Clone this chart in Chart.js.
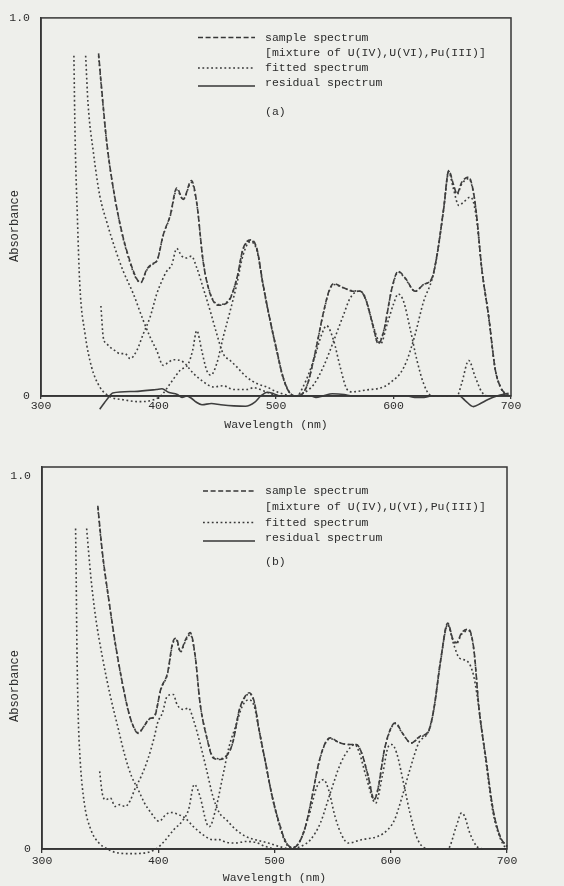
<!DOCTYPE html>
<html>
<head>
<meta charset="utf-8">
<script src="https://cdn.jsdelivr.net/npm/chart.js@4"></script>
<style>
  body { margin: 0; background: #eeefeb; }
  .panel { width: 564px; height: 443px; }
</style>
</head>
<body>
<div class="panel"><canvas id="chart-a" width="564" height="443"></canvas></div>
<div class="panel"><canvas id="chart-b" width="564" height="443"></canvas></div>
<script>
/************************ axis ticks and legend text *************************/
const xTicks = [300, 400, 500, 600, 700];
const yTicks = [0, 1.0];
const legendLabels = ["sample spectrum", "[mixture of U(IV),U(VI),Pu(III)]", "fitted spectrum", "residual spectrum"];

/************************ spectra, panel (a) [nm, absorbance] ****************/
const sampleA = [[349,0.906],[351.7,0.81],[356,0.67],[361.6,0.548],[368.7,0.435],[375.8,0.356],[381.5,0.31],[385,0.30],[390,0.335],[395,0.35],[399,0.36],[404,0.426],[410,0.478],[415.5,0.55],[421,0.52],[428,0.57],[432.6,0.51],[438,0.356],[444,0.27],[451,0.24],[459.5,0.25],[466.6,0.31],[472,0.39],[478.6,0.413],[483.7,0.39],[489,0.295],[495,0.2],[500.7,0.12],[506,0.05],[512,0.007],[518,0],[526,0.024],[533,0.11],[540,0.216],[545,0.277],[549,0.297],[557.5,0.286],[566,0.277],[571.7,0.277],[577,0.25],[583,0.18],[587,0.138],[591.6,0.17],[598.7,0.286],[604,0.33],[610,0.312],[618.5,0.277],[625.6,0.295],[632.7,0.312],[637,0.373],[642.7,0.496],[647,0.596],[651,0.56],[654,0.535],[658,0.565],[664,0.579],[668,0.54],[671,0.47],[675,0.34],[681,0.21],[686.6,0.07],[691,0.024],[695,0.007],[699,0]];
const fittedA = [[349,0.9],[351.7,0.805],[356,0.668],[361.6,0.546],[368.7,0.433],[375.8,0.352],[381.5,0.308],[385,0.3],[390,0.333],[395,0.348],[399,0.36],[404,0.424],[410,0.476],[415.5,0.545],[421,0.52],[428,0.565],[432.6,0.508],[438,0.356],[444,0.272],[451,0.242],[459.5,0.252],[466.6,0.31],[472,0.388],[478.6,0.41],[483.7,0.388],[489,0.295],[495,0.2],[500.7,0.12],[506,0.05],[512,0.008],[518,0],[526,0.025],[533,0.11],[540,0.214],[545,0.275],[549,0.295],[557.5,0.286],[566,0.278],[571.7,0.277],[577,0.25],[583,0.18],[587,0.14],[591.6,0.172],[598.7,0.284],[604,0.328],[610,0.31],[618.5,0.277],[625.6,0.295],[632.7,0.31],[637,0.372],[642.7,0.494],[647,0.592],[651,0.556],[654,0.533],[658,0.56],[664,0.575],[668,0.538],[671,0.47],[675,0.34],[681,0.21],[686.6,0.07],[691,0.024],[695,0.006],[699,0]];
const uIVA = [[328,0.9],[329,0.688],[331,0.47],[333,0.295],[337.5,0.164],[343,0.077],[350,0.024],[359,-0.002],[370,-0.01],[384,-0.015],[395.7,-0.01],[402.8,0.003],[410,0.033],[418.4,0.068],[425.5,0.086],[429,0.12],[432.6,0.173],[436.8,0.12],[441,0.068],[444.5,0.055],[449.6,0.086],[455,0.155],[461,0.225],[466.6,0.295],[472,0.373],[478,0.408],[483.7,0.385],[489,0.292],[495,0.198],[500.7,0.118],[506,0.048],[512,0.007],[517.7,0],[523,0.024],[532,0.094],[539,0.164],[543,0.186],[549,0.147],[554.6,0.077],[560,0.02],[564.6,0.011],[577,0.016],[591.6,0.024],[600,0.042],[605.8,0.06],[611.4,0.094],[618.5,0.164],[625.6,0.25],[632.7,0.308],[637,0.37],[642.7,0.494],[647,0.594],[651,0.548],[655.5,0.504],[659.7,0.513],[665.4,0.526],[668,0.513],[671,0.46],[675,0.34],[681,0.21],[686.6,0.07],[691,0.024],[695,0.003]];
const uVIA = [[338,0.9],[340,0.775],[344.6,0.644],[350,0.53],[356,0.46],[363,0.39],[370,0.33],[378.6,0.27],[387,0.2],[393,0.155],[398.5,0.12],[404,0.081],[408,0.088],[412.7,0.096],[421,0.09],[429.7,0.06],[438,0.038],[446.8,0.024],[455,0.027],[464,0.017],[475,0.017],[481,0.022],[489,0.014],[498,0.003],[503.6,0]];
const puIIIA = [[351,0.238],[353,0.155],[356,0.138],[358.8,0.129],[363,0.12],[367,0.112],[371.5,0.112],[375.8,0.099],[381.5,0.12],[387,0.164],[392.8,0.208],[398.5,0.27],[402.8,0.304],[407,0.33],[411.3,0.347],[415.5,0.39],[419.8,0.37],[424,0.365],[428,0.37],[432.6,0.339],[438,0.286],[444,0.225],[449.6,0.164],[455,0.112],[461,0.094],[466.6,0.077],[475,0.05],[483.7,0.033],[492,0.024],[500.7,0.011],[509,0.003],[515,0],[523,0.007],[532,0.03],[540,0.075],[549,0.145],[557.5,0.215],[563,0.258],[570,0.277],[574.5,0.27],[580,0.216],[586,0.155],[589,0.138],[594.6,0.19],[600,0.243],[604,0.27],[608.6,0.25],[614,0.18],[620,0.094],[625.6,0.033],[631,0.003],[637,0],[654,0],[658,0.033],[664,0.094],[669.6,0.05],[675,0.011],[679,0]];
const residualA = [[350,-0.035],[354,-0.018],[358.4,0],[361,0.008],[379.5,0.012],[398,0.017],[403,0.019],[408.4,0.01],[416,0.004],[420,-0.004],[424,0],[428,-0.006],[432,-0.016],[437,-0.023],[445,-0.02],[453,-0.023],[464,-0.026],[474,-0.027],[482,-0.016],[487,0],[492.6,0.01],[498,0.006],[503,0],[530,0],[534,-0.004],[540,0],[548,0.006],[558,0.004],[565,0],[612,0],[618,-0.004],[626,-0.004],[632,0],[656,0],[661,-0.012],[668,-0.028],[674,-0.02],[680,-0.01],[688,0],[698,0.007]];

/************************ spectra, panel (b) [nm, absorbance] ****************/
const sampleB = [[348,0.92],[352,0.794],[357.4,0.67],[363,0.553],[368.6,0.454],[374,0.374],[378.4,0.33],[382.6,0.31],[388,0.33],[392.4,0.35],[396.6,0.354],[402.3,0.43],[408,0.472],[412.5,0.555],[415.5,0.565],[419,0.53],[423.3,0.56],[427.5,0.58],[431.8,0.517],[436,0.39],[441.6,0.3],[447.3,0.244],[453,0.24],[458.6,0.249],[464,0.284],[469.8,0.374],[474.9,0.41],[478.3,0.419],[482.5,0.396],[486.7,0.32],[492.4,0.23],[498,0.141],[504,0.07],[509.6,0.02],[515.3,0.003],[521,0.016],[526.6,0.06],[532.3,0.14],[538,0.23],[543.6,0.284],[547.9,0.298],[555,0.286],[563.4,0.28],[570.6,0.28],[574.9,0.258],[580.6,0.195],[585.7,0.132],[589,0.16],[594.6,0.267],[601,0.33],[604,0.338],[610,0.311],[617.6,0.284],[625,0.302],[632.5,0.316],[637,0.374],[643,0.508],[649,0.606],[653.5,0.562],[656.5,0.553],[661,0.58],[667,0.589],[671.5,0.535],[676,0.374],[682,0.24],[688,0.106],[694,0.034],[700,0.007]];
const fittedB = [[348,0.915],[352,0.79],[357.4,0.668],[363,0.55],[368.6,0.452],[374,0.372],[378.4,0.33],[382.6,0.312],[388,0.33],[392.4,0.348],[396.6,0.355],[402.3,0.428],[408,0.47],[412.5,0.55],[415.5,0.56],[419,0.528],[423.3,0.556],[427.5,0.575],[431.8,0.515],[436,0.39],[441.6,0.302],[447.3,0.246],[453,0.242],[458.6,0.25],[464,0.284],[469.8,0.372],[474.9,0.408],[478.3,0.416],[482.5,0.394],[486.7,0.32],[492.4,0.23],[498,0.141],[504,0.07],[509.6,0.02],[515.3,0.003],[521,0.017],[526.6,0.06],[532.3,0.14],[538,0.228],[543.6,0.282],[547.9,0.296],[555,0.286],[563.4,0.28],[570.6,0.279],[574.9,0.258],[580.6,0.195],[585.7,0.134],[589,0.162],[594.6,0.266],[601,0.328],[604,0.336],[610,0.31],[617.6,0.284],[625,0.3],[632.5,0.315],[637,0.372],[643,0.505],[649,0.602],[653.5,0.56],[656.5,0.55],[661,0.576],[667,0.585],[671.5,0.533],[676,0.374],[682,0.24],[688,0.106],[694,0.034],[700,0.006]];
const uIVB = [[328.9,0.859],[329.4,0.73],[330,0.553],[331,0.374],[332.8,0.24],[336.4,0.123],[342,0.052],[349,0.016],[354.6,0.003],[363,-0.009],[377,-0.0125],[391,-0.009],[399.4,0.003],[405,0.02],[413.4,0.052],[420.4,0.074],[426,0.105],[431,0.173],[435.9,0.141],[441.5,0.07],[444,0.06],[450,0.114],[455.5,0.195],[461,0.275],[466.7,0.33],[472.3,0.383],[478,0.40],[482.5,0.383],[486.7,0.318],[492.4,0.228],[498,0.14],[504,0.065],[509.6,0.016],[514,0.003],[521,0.016],[529.5,0.088],[536.6,0.168],[542.2,0.186],[546.4,0.16],[552,0.088],[557.7,0.038],[563.4,0.016],[574.8,0.025],[589,0.034],[597.6,0.052],[603.4,0.079],[609,0.132],[616.5,0.213],[624,0.284],[632.5,0.316],[637,0.374],[643,0.508],[649,0.6],[654.6,0.544],[659,0.512],[666,0.503],[671.4,0.463],[676,0.374],[682,0.23],[688,0.097],[694,0.03],[698.5,0.003]];
const uVIB = [[338.4,0.859],[342,0.73],[346,0.624],[351.8,0.517],[358.8,0.41],[365.8,0.32],[371.4,0.249],[377,0.195],[382.6,0.16],[388.2,0.123],[393.8,0.097],[400.8,0.074],[406.4,0.092],[410.6,0.098],[417.6,0.092],[423.2,0.083],[430.2,0.06],[438.6,0.038],[447,0.025],[452.6,0.025],[458.3,0.018],[466.7,0.016],[475,0.02],[483.5,0.018],[492,0.007],[500,0]];
const puIIIB = [[349.6,0.208],[351.8,0.15],[354.6,0.132],[358.8,0.137],[363,0.114],[367,0.119],[371.4,0.114],[375.6,0.128],[379.8,0.16],[385.4,0.195],[391,0.24],[396.6,0.30],[399.4,0.338],[403.6,0.365],[407.8,0.41],[412.9,0.414],[416.2,0.387],[421.8,0.374],[426,0.378],[430.2,0.347],[435.9,0.284],[441.5,0.213],[447,0.141],[452.6,0.097],[458.3,0.079],[466.7,0.052],[475,0.034],[483.5,0.025],[494.7,0.016],[506,0.005],[514.3,0],[522.7,0.007],[531,0.025],[539.5,0.07],[548,0.15],[556.3,0.225],[563.3,0.265],[568.9,0.28],[573,0.258],[578.7,0.195],[587,0.123],[592.7,0.195],[598,0.275],[601,0.28],[605,0.258],[611,0.177],[616.5,0.097],[622,0.034],[628,0.005],[635,0],[649,0],[656.3,0.06],[661,0.097],[663.5,0.088],[668,0.043],[674,0.007],[679,0]];
const residualB = [[350,0],[450,0],[550,0],[650,0],[700,0]];

/************************ styles ***********************************************/
const ink = "#3e3e3e";
const dashed = [5, 2.6];
const dotted = [1.8, 2.6];

Chart.defaults.font.family = "'Liberation Mono', 'DejaVu Sans Mono', monospace";
Chart.defaults.font.size = 11.5;
Chart.defaults.color = "#2c2c2c";

function spectrum(points, dash) {
  return {
    data: points.map(p => ({ x: p[0], y: p[1] })),
    borderColor: ink,
    borderWidth: 1.6,
    borderDash: dash,
    pointRadius: 0,
    fill: false,
    cubicInterpolationMode: "monotone",
    clip: false,
  };
}

// box round the plot, legend block and rotated y title
const decorations = {
  id: "decorations",
  afterDraw(chart, args, opts) {
    const { ctx, chartArea } = chart;
    ctx.save();
    ctx.strokeStyle = "#363636";
    ctx.lineWidth = 1.5;
    ctx.strokeRect(chartArea.left, chartArea.top, chartArea.right - chartArea.left, chartArea.bottom - chartArea.top);

    ctx.font = "11.5px 'Liberation Mono', monospace";
    ctx.fillStyle = "#2c2c2c";
    ctx.textBaseline = "middle";
    const styles = [dashed, null, dotted, []];
    legendLabels.forEach((label, i) => {
      const y = opts.rows[i];
      ctx.fillText(label, opts.textX, y);
      if (styles[i]) {
        ctx.setLineDash(styles[i]);
        ctx.lineWidth = 1.5;
        ctx.beginPath();
        ctx.moveTo(opts.lineX[0], y + (i === 3 ? 3 : 0));
        ctx.lineTo(opts.lineX[1], y + (i === 3 ? 3 : 0));
        ctx.stroke();
      }
    });
    ctx.setLineDash([]);
    ctx.fillText(opts.tag, opts.textX, opts.tagY);

    ctx.font = "12px 'Liberation Mono', monospace";
    ctx.translate(15, opts.titleY);
    ctx.rotate(-Math.PI / 2);
    ctx.textAlign = "center";
    ctx.fillText("Absorbance", 0, 0);
    ctx.restore();
  },
};

function createChartConfig(series, panel) {
  return {
    type: "line",
    data: {
      datasets: [
        spectrum(series.uIV, dotted),
        spectrum(series.uVI, dotted),
        spectrum(series.puIII, dotted),
        spectrum(series.fitted, dotted),
        spectrum(series.sample, dashed),
        spectrum(series.residual, []),
      ],
    },
    options: {
      responsive: false,
      animation: false,
      layout: { padding: { top: panel.top, right: panel.right, left: 0, bottom: 0 } },
      plugins: {
        legend: { display: false },
        tooltip: { enabled: false },
        decorations: panel.deco,
      },
      scales: {
        x: {
          type: "linear",
          min: 300,
          max: 700,
          afterBuildTicks: s => { s.ticks = xTicks.map(v => ({ value: v })); },
          afterFit: s => { s.height = panel.xHeight; },
          ticks: { padding: panel.tickPad, maxRotation: 0 },
          grid: { display: true, drawOnChartArea: false, tickLength: panel.tickLen, color: "#363636", lineWidth: 1.3 },
          border: { display: true, color: "#363636", width: 1.7 },
          title: { display: true, text: "Wavelength (nm)", padding: { top: 0, bottom: panel.titlePad } },
        },
        y: {
          min: 0,
          max: panel.yMax,
          afterBuildTicks: s => { s.ticks = yTicks.map(v => ({ value: v })); },
          afterFit: s => { s.width = panel.yWidth; },
          ticks: { padding: 11, callback: v => (v === 0 ? "0" : v.toFixed(1)) },
          grid: { display: false, drawTicks: false },
          border: { display: true, color: "#363636", width: 1.5 },
        },
      },
    },
    plugins: [decorations],
  };
}

/************************* CHART INITIALIZATION ******************************/
const ctxA = document.getElementById("chart-a").getContext("2d");
const chartA = new Chart(ctxA, createChartConfig(
  { sample: sampleA, fitted: fittedA, uIV: uIVA, uVI: uVIA, puIII: puIIIA, residual: residualA },
  {
    top: 14, right: 53, yWidth: 41, xHeight: 47, yMax: 1.0, tickLen: 3, tickPad: 0, titlePad: 11,
    deco: { rows: [37.5, 53, 68, 83], lineX: [198, 255], textX: 265, tag: "(a)", tagY: 112, titleY: 226 },
  }
));

const ctxB = document.getElementById("chart-b").getContext("2d");
const chartB = new Chart(ctxB, createChartConfig(
  { sample: sampleB, fitted: fittedB, uIV: uIVB, uVI: uVIB, puIII: puIIIB, residual: residualB },
  {
    top: 24, right: 57, yWidth: 42, xHeight: 37, yMax: 1.024, tickLen: 4, tickPad: 1, titlePad: 1,
    deco: { rows: [48, 64, 79.5, 95], lineX: [203, 255], textX: 265, tag: "(b)", tagY: 119, titleY: 243 },
  }
));
</script>
</body>
</html>
